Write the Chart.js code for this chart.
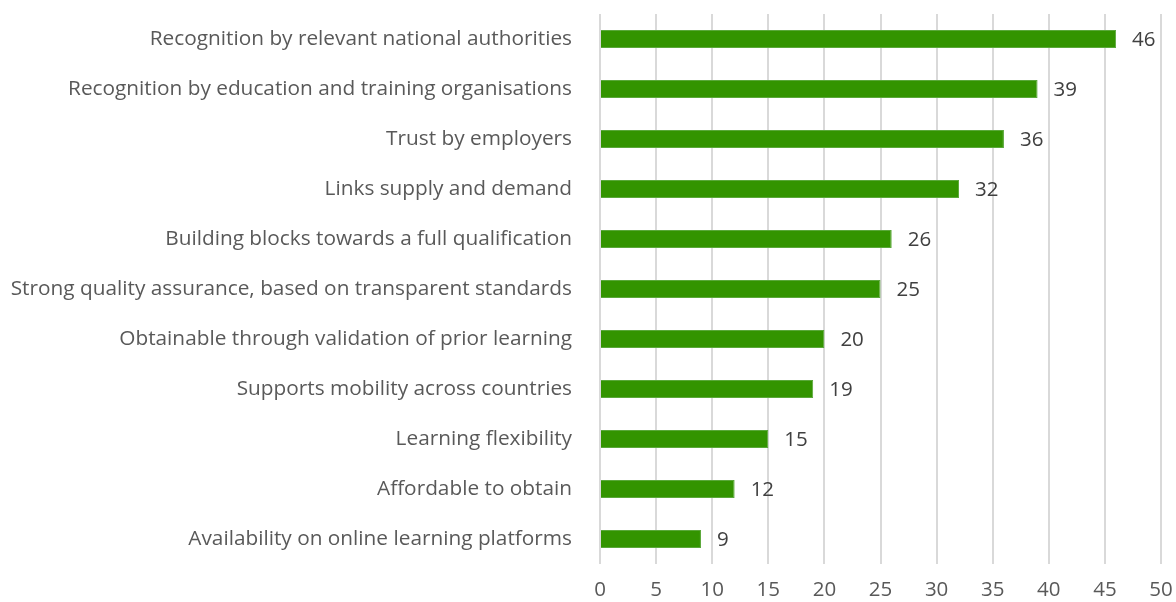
<!DOCTYPE html>
<html>
<head>
<meta charset="utf-8">
<script src="https://cdn.jsdelivr.net/npm/chart.js@4"></script>
<style>
  html, body { margin: 0; padding: 0; background: #fff; }
  #wrap { width: 1176px; height: 602px; }
</style>
</head>
<body>
<div id="wrap"><canvas id="chart"></canvas></div>
<script>
const categories = [
    "Recognition by relevant national authorities",
    "Recognition by education and training organisations",
    "Trust by employers",
    "Links supply and demand",
    "Building blocks towards a full qualification",
    "Strong quality assurance, based on transparent standards",
    "Obtainable through validation of prior learning",
    "Supports mobility across countries",
    "Learning flexibility",
    "Affordable to obtain",
    "Availability on online learning platforms"
];
const values = [46, 39, 36, 32, 26, 25, 20, 19, 15, 12, 9];
const xTicks = [0, 5, 10, 15, 20, 25, 30, 35, 40, 45, 50];

const fontFamily = "'Open Sans', Lato, sans-serif";
const textColor = "#595959";

// value next to the end of each bar
const valueLabels = {
    id: "valueLabels",
    afterDatasetsDraw(chart) {
        let ctx = chart.ctx;
        let meta = chart.getDatasetMeta(0);
        ctx.save();
        ctx.font = "20.5px " + fontFamily;
        ctx.fillStyle = "#404040";
        ctx.textAlign = "left";
        ctx.textBaseline = "middle";
        meta.data.forEach((bar, i) => {
            ctx.fillText(String(values[i]), bar.x + 16, bar.y + 1);
        });
        ctx.restore();
    }
};

let ctx = document.getElementById("chart").getContext("2d");

new Chart(ctx, {
    type: "bar",
    data: {
        labels: categories,
        datasets: [{
            data: values,
            backgroundColor: "#339400",
            borderColor: "#5aa83a",
            borderWidth: 1,
            barPercentage: 0.72,
            categoryPercentage: 0.5
        }]
    },
    options: {
        indexAxis: "y",
        responsive: true,
        maintainAspectRatio: false,
        animation: false,
        layout: { padding: { top: 14, right: 15, left: 0, bottom: 0 } },
        plugins: {
            legend: { display: false },
            tooltip: { enabled: false }
        },
        scales: {
            x: {
                min: 0,
                max: 50,
                afterBuildTicks: scale => { scale.ticks = xTicks.map(v => ({ value: v })); },
                border: { display: false },
                grid: { color: "#d9d9d9", lineWidth: 2, drawTicks: false },
                ticks: {
                    color: textColor,
                    font: { family: fontFamily, size: 20.5 },
                    padding: 14
                },
                afterFit: scale => {
                    scale.height = 38;
                    scale.paddingLeft = 0;
                    scale.paddingRight = 0;
                }
            },
            y: {
                border: { display: false },
                grid: { display: false, drawTicks: false },
                ticks: {
                    color: textColor,
                    font: { family: fontFamily, size: 20.8 },
                    padding: 28,
                    autoSkip: false
                },
                afterFit: scale => {
                    scale.width = 600;
                    scale.paddingTop = 0;
                    scale.paddingBottom = 0;
                }
            }
        }
    },
    plugins: [valueLabels]
});
</script>
</body>
</html>
